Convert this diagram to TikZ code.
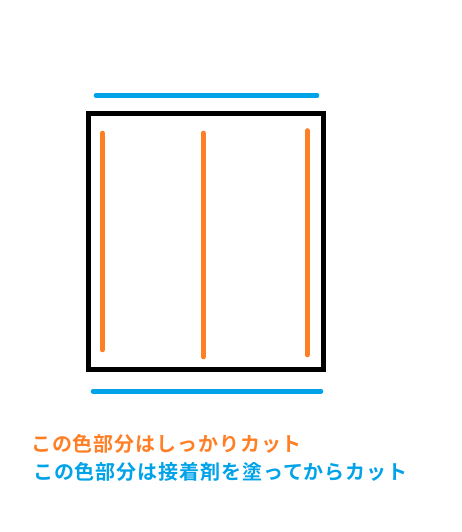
\documentclass[tikz,border=0pt]{standalone}
\usepackage{fontspec}
\newfontfamily\jpfont{Noto Sans CJK JP}[BoldFont=* Bold,BoldFeatures={LetterSpace=4.5}]
\definecolor{cutorange}{HTML}{FF7F27}
\definecolor{glueblue}{HTML}{00A2E8}
\begin{document}
\begin{tikzpicture}[x=1pt,y=-1pt,
  frame/.style={draw=black,line width=5pt},
  orangecut/.style={draw=cutorange,line width=4.6pt,line cap=round},
  bluecut/.style={draw=glueblue,line width=4.6pt,line cap=round},
  label/.style={font=\jpfont\bfseries\fontsize{20pt}{24pt}\selectfont,inner sep=0pt,anchor=base west}]
\useasboundingbox (0,0) rectangle (461,532);
\draw[frame] (88.5,113.5) rectangle (323.5,369.5);
\draw[bluecut] (96,95.5) -- (317,95.5);
\draw[bluecut] (93,391.3) -- (321,391.3);
\draw[orangecut] (102.3,133) -- (102.3,350);
\draw[orangecut] (203.3,133) -- (203.3,357);
\draw[orangecut] (307.3,130.5) -- (307.3,355);
\node[label,text=cutorange] (t1) at (31,451) {この色部分はしっかりカット};
\node[label,text=glueblue] (t2) at (33,479) {この色部分は接着剤を塗ってからカット};
\end{tikzpicture}
\end{document}
